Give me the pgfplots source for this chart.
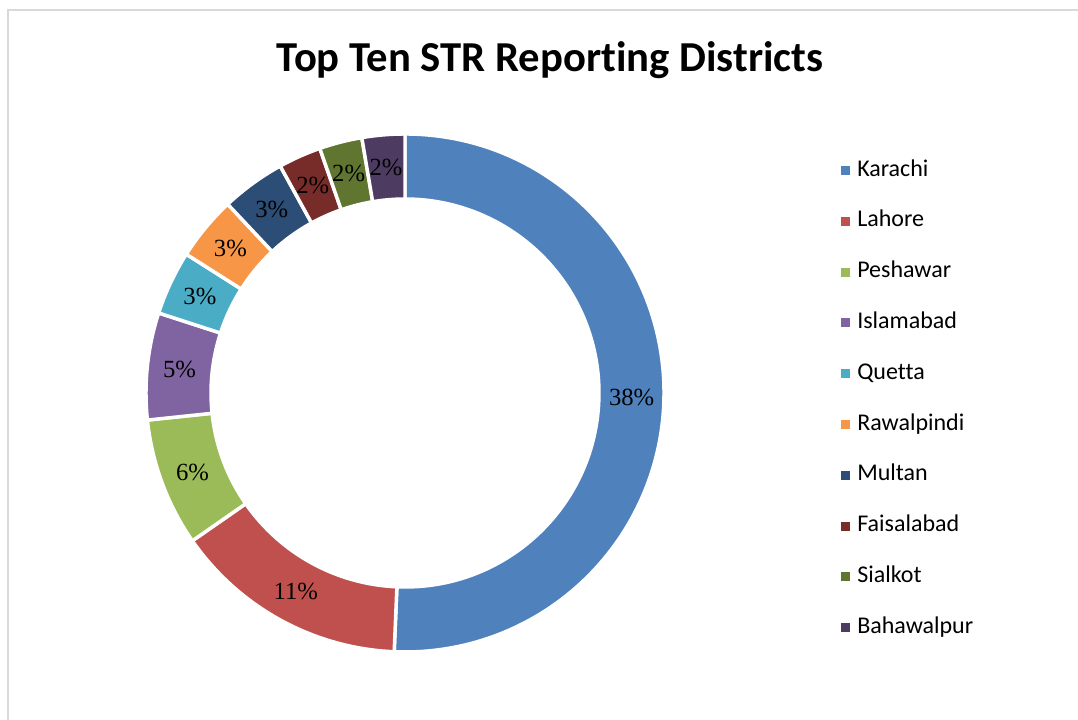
\documentclass[border=0pt]{standalone}
\usepackage{pgfplots}
\pgfplotsset{compat=1.18}
\usepackage{pgfplotstable}
\usepackage{fontspec}
\setmainfont[Ligatures=NoCommon]{Carlito}
\newfontfamily\labelfont{Liberation Serif}

\definecolor{c1}{RGB}{79,129,189}
\definecolor{c2}{RGB}{192,80,77}
\definecolor{c3}{RGB}{155,187,89}
\definecolor{c4}{RGB}{128,100,162}
\definecolor{c5}{RGB}{75,172,198}
\definecolor{c6}{RGB}{247,150,70}
\definecolor{c7}{RGB}{44,77,117}
\definecolor{c8}{RGB}{119,44,42}
\definecolor{c9}{RGB}{95,117,48}
\definecolor{c10}{RGB}{77,59,98}
\definecolor{framegray}{RGB}{217,217,217}

\pgfplotstableread{
name value color
Karachi 38 c1
Lahore 11 c2
Peshawar 6 c3
Islamabad 5 c4
Quetta 3 c5
Rawalpindi 3 c6
Multan 3 c7
Faisalabad 2 c8
Sialkot 2 c9
Bahawalpur 2 c10
}\datatable

\def\Ro{194.25pt}% outer radius (259px)
\def\Ri{145.5pt}% inner radius (194px)
\def\Rm{170pt}% label radius

% precompute angles outside the axis
\gdef\total{0}
\pgfplotsforeachungrouped \i in {0,...,9}{%
  \pgfplotstablegetelem{\i}{value}\of\datatable
  \pgfmathsetmacro\newtot{\total+\pgfplotsretval}%
  \xdef\total{\newtot}%
}
\gdef\cum{0}
\pgfplotsforeachungrouped \i in {0,...,9}{%
  \pgfplotstablegetelem{\i}{value}\of\datatable
  \expandafter\xdef\csname V\i\endcsname{\pgfplotsretval}%
  \pgfmathsetmacro\tmpa{90-\cum/\total*360}%
  \pgfmathsetmacro\tmpb{90-(\cum+\pgfplotsretval)/\total*360}%
  \pgfmathsetmacro\tmpm{(\tmpa+\tmpb)/2}%
  \expandafter\xdef\csname A\i\endcsname{\tmpa}%
  \expandafter\xdef\csname B\i\endcsname{\tmpb}%
  \expandafter\xdef\csname M\i\endcsname{\tmpm}%
  \pgfmathsetmacro\newcum{\cum+\pgfplotsretval}%
  \xdef\cum{\newcum}%
  \pgfplotstablegetelem{\i}{color}\of\datatable
  \expandafter\xdef\csname C\i\endcsname{\pgfplotsretval}%
  \pgfplotstablegetelem{\i}{name}\of\datatable
  \expandafter\xdef\csname N\i\endcsname{\pgfplotsretval}%
  \pgfmathsetmacro\tmpy{720-(170.5+50.8*\i)}%
  \expandafter\xdef\csname Y\i\endcsname{\tmpy}%
}

\begin{document}
\begin{tikzpicture}
\begin{axis}[
  x=0.75pt, y=0.75pt,
  xmin=0, xmax=1078, ymin=0, ymax=720,
  hide axis, clip=false,
]
\addplot[draw=none] coordinates {(0,0)};
\pgfplotsextra{
  \path (axis cs:0,0) coordinate (bl) (axis cs:1078,720) coordinate (tr);
  \draw[framegray, line width=1pt] (axis cs:8,0) -- (axis cs:8,710) -- (axis cs:1078,710);
  \node[font=\bfseries\fontsize{32}{38}\selectfont] at (axis cs:550,660) {Top Ten STR Reporting Districts};
  \coordinate (C) at (axis cs:405,327);
  \foreach \i in {0,...,9}{
    \edef\sa{\csname A\i\endcsname}
    \edef\sb{\csname B\i\endcsname}
    \edef\sm{\csname M\i\endcsname}
    \edef\col{\csname C\i\endcsname}
    \edef\ly{\csname Y\i\endcsname}
    \filldraw[fill=\col, draw=white, line width=2.6pt, line join=miter]
      ([shift={(\sa:\Ro)}]C) arc[start angle=\sa, end angle=\sb, radius=\Ro]
      -- ([shift={(\sb:\Ri)}]C) arc[start angle=\sb, end angle=\sa, radius=\Ri] -- cycle;
    \node[font=\labelfont\fontsize{18.5}{21}\selectfont, inner sep=0pt] at ([shift={(\sm:\Rm)}]C) {\csname V\i\endcsname\%};
    \fill[fill=\col] ([shift={(-3pt,-3.4pt)}]axis cs:845,\ly) rectangle ([shift={(3.75pt,3.4pt)}]axis cs:845,\ly);
    \node[anchor=west, inner sep=0pt, font=\fontsize{18}{21}\selectfont] at (axis cs:857,\ly) {\strut\csname N\i\endcsname};
  }
}
\end{axis}
\pgfresetboundingbox
\path[use as bounding box] (bl) rectangle (tr);
\end{tikzpicture}
\end{document}
